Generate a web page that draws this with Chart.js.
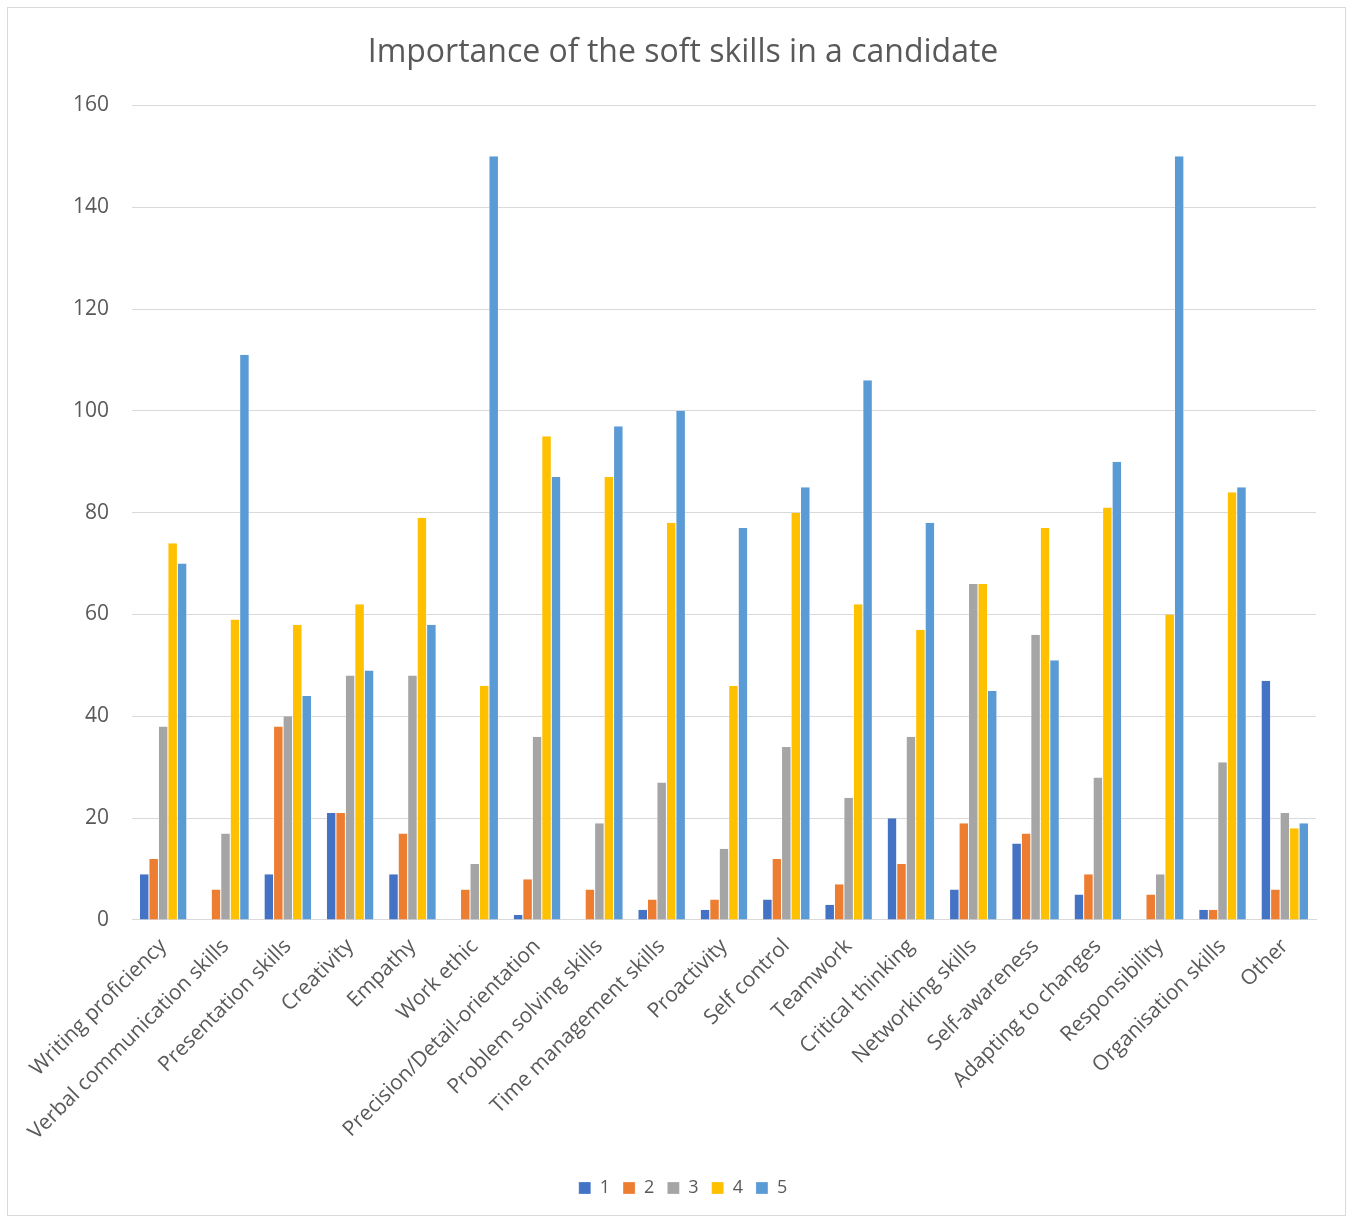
<!DOCTYPE html>
<html>
<head>
<meta charset="utf-8">
<script src="https://cdn.jsdelivr.net/npm/chart.js@4.4.0/dist/chart.umd.min.js"></script>
<style>
  body { margin: 0; background: #fff; }
  #marco { position: absolute; left: 7px; top: 7px; width: 1337px; height: 1207px; border: 1px solid #d9d9d9; }
</style>
</head>
<body>
<div id="marco"><canvas id="grafico" width="1337" height="1207"></canvas></div>
<script>
const categorias = ["Writing proficiency", "Verbal communication skills", "Presentation skills", "Creativity", "Empathy",
  "Work ethic", "Precision/Detail-orientation", "Problem solving skills", "Time management skills", "Proactivity",
  "Self control", "Teamwork", "Critical thinking", "Networking skills", "Self-awareness", "Adapting to changes",
  "Responsibility", "Organisation skills", "Other"];

const serie1 = [9, 0, 9, 21, 9, 0, 1, 0, 2, 2, 4, 3, 20, 6, 15, 5, 0, 2, 47];
const serie2 = [12, 6, 38, 21, 17, 6, 8, 6, 4, 4, 12, 7, 11, 19, 17, 9, 5, 2, 6];
const serie3 = [38, 17, 40, 48, 48, 11, 36, 19, 27, 14, 34, 24, 36, 66, 56, 28, 9, 31, 21];
const serie4 = [74, 59, 58, 62, 79, 46, 95, 87, 78, 46, 80, 62, 57, 66, 77, 81, 60, 84, 18];
const serie5 = [70, 111, 44, 49, 58, 150, 87, 97, 100, 77, 85, 106, 78, 45, 51, 90, 150, 85, 19];

const nombresSeries = ["1", "2", "3", "4", "5"];
const colores = ["#4472C4", "#ED7D31", "#A5A5A5", "#FFC000", "#5B9BD5"];
const valores = [serie1, serie2, serie3, serie4, serie5];

const gris = "#595959";
const fuente = "'Open Sans', sans-serif";

const ctx = document.getElementById("grafico").getContext("2d");
new Chart(ctx, {
  type: "bar",
  data: {
    labels: categorias,
    datasets: valores.map((v, i) => ({
      label: nombresSeries[i],
      data: v,
      backgroundColor: colores[i],
      borderColor: "#ffffff",
      borderWidth: { left: 0.5, right: 0.5, top: 0, bottom: 0 },
      categoryPercentage: 0.76,
      barPercentage: 1.0
    }))
  },
  options: {
    responsive: false,
    animation: false,
    layout: { padding: { left: 42, right: 29, top: 10, bottom: 8 } },
    plugins: {
      title: {
        display: true,
        text: "Importance of the soft skills in a candidate",
        color: gris,
        font: { family: fuente, size: 32, weight: "normal" },
        padding: { top: 16, bottom: 33 }
      },
      legend: {
        position: "bottom",
        labels: {
          color: gris,
          font: { family: fuente, size: 18 },
          boxWidth: 12,
          boxHeight: 12,
          padding: 13
        }
      },
      tooltip: { enabled: false }
    },
    scales: {
      x: {
        grid: { display: false, drawTicks: false },
        border: { color: "#d9d9d9", width: 1 },
        afterFit: (escala) => { escala.height += 7; },
        ticks: {
          color: gris,
          font: { family: fuente, size: 21 },
          minRotation: 45,
          maxRotation: 45,
          autoSkip: false,
          padding: 14
        }
      },
      y: {
        min: 0,
        max: 160,
        grid: { color: "#d9d9d9", drawTicks: false },
        border: { display: false },
        ticks: {
          stepSize: 20,
          color: gris,
          font: { family: fuente, size: 21 },
          padding: 23
        }
      }
    }
  }
});
</script>
</body>
</html>
